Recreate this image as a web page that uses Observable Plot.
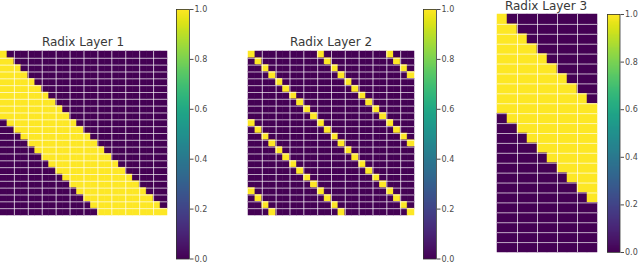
<!DOCTYPE html>
<html><head><meta charset="utf-8">
<script src="https://cdn.jsdelivr.net/npm/d3@7"></script>
<script src="https://cdn.jsdelivr.net/npm/@observablehq/plot@0.6"></script>
<style>
html,body{margin:0;padding:0;background:#fff;}
#root{position:relative;width:640px;height:265px;overflow:hidden;font-family:"DejaVu Sans",sans-serif;}
.abs{position:absolute;}
.abs svg{max-width:none !important;display:block;}
.title{position:absolute;font-size:12px;line-height:12px;color:#383838;white-space:nowrap;transform:translateX(-50%);}
</style></head><body><div id="root"></div>
<script>
const titles = ["Radix Layer 1", "Radix Layer 2", "Radix Layer 3"];
const colorbarTicks = [0, 0.2, 0.4, 0.6, 0.8, 1.0];

// 1 = yellow (1.0), 0 = purple (0.0); spaces only group columns for readability
const layer1Rows = [
  "100000 000000 000000 000000",
  "110000 000000 000000 000000",
  "111000 000000 000000 000000",
  "111100 000000 000000 000000",
  "111110 000000 000000 000000",
  "111111 000000 000000 000000",
  "111111 100000 000000 000000",
  "111111 110000 000000 000000",
  "111111 111000 000000 000000",
  "111111 111100 000000 000000",
  "011111 111110 000000 000000",
  "001111 111111 000000 000000",
  "000111 111111 100000 000000",
  "000011 111111 110000 000000",
  "000001 111111 111000 000000",
  "000000 111111 111100 000000",
  "000000 011111 111110 000000",
  "000000 001111 111111 000000",
  "000000 000111 111111 100000",
  "000000 000011 111111 110000",
  "000000 000001 111111 111000",
  "000000 000000 111111 111100",
  "000000 000000 011111 111110",
  "000000 000000 001111 111111"
];
const layer2Rows = [
  "100000 000010 000000 001000",
  "010000 000001 000000 000100",
  "001000 000000 100000 000010",
  "000100 000000 010000 000001",
  "000010 000000 001000 000000",
  "000001 000000 000100 000000",
  "000000 100000 000010 000000",
  "000000 010000 000001 000000",
  "000000 001000 000000 100000",
  "000000 000100 000000 010000",
  "100000 000010 000000 001000",
  "010000 000001 000000 000100",
  "001000 000000 100000 000010",
  "000100 000000 010000 000001",
  "000010 000000 001000 000000",
  "000001 000000 000100 000000",
  "000000 100000 000010 000000",
  "000000 010000 000001 000000",
  "000000 001000 000000 100000",
  "000000 000100 000000 010000",
  "100000 000010 000000 001000",
  "010000 000001 000000 000100",
  "001000 000000 100000 000010",
  "000100 000000 010000 000001"
];
const layer3Rows = [
  "10000 00000",
  "11000 00000",
  "11100 00000",
  "11110 00000",
  "11111 00000",
  "11111 10000",
  "11111 11000",
  "11111 11100",
  "11111 11110",
  "11111 11111",
  "01111 11111",
  "00111 11111",
  "00011 11111",
  "00001 11111",
  "00000 11111",
  "00000 01111",
  "00000 00111",
  "00000 00011",
  "00000 00001",
  "00000 00000",
  "00000 00000",
  "00000 00000",
  "00000 00000",
  "00000 00000"
];
// white grid lines (column lines every two columns, row lines every row)
const colGrid24 = [2, 4, 6, 8, 10, 12, 14, 16, 18, 20, 22];
const colGrid10 = [2, 4, 6, 8];
const rowGrid24 = [1, 2, 3, 4, 5, 6, 7, 8, 9, 10, 11, 12, 13, 14, 15, 16, 17, 18, 19, 20, 21, 22, 23];

const root = document.getElementById("root");
const colorOpts = {type: "linear", scheme: "viridis", domain: [0, 1]};

function place(node, left, top, w, h) {
  const d = document.createElement("div");
  d.className = "abs";
  d.style.left = left + "px";
  d.style.top = top + "px";
  d.style.width = w + "px";
  d.style.height = h + "px";
  d.appendChild(node);
  root.appendChild(d);
}

function heatmap(rows, colGrid, w, h) {
  const grid = rows.map(r => r.replace(/ /g, ""));
  const nR = grid.length, nC = grid[0].length;
  const cells = [];
  grid.forEach((row, r) => row.split("").forEach((ch, c) => cells.push({r, c, v: +ch})));
  return Plot.plot({
    width: w, height: h,
    marginTop: 0, marginRight: 0, marginBottom: 0, marginLeft: 0,
    x: {domain: [0, nC], axis: null},
    y: {domain: [0, nR], axis: null, reverse: true},
    color: colorOpts,
    style: {background: "transparent", overflow: "visible", maxWidth: "none"},
    marks: [
      Plot.rect(cells, {x1: "c", x2: d => d.c + 1, y1: "r", y2: d => d.r + 1, fill: "v", stroke: "v", strokeWidth: 0.5}),
      Plot.ruleX(colGrid, {stroke: "white", strokeOpacity: 0.7, strokeWidth: 1}),
      Plot.ruleY(rowGrid24.filter(k => k < nR), {stroke: "white", strokeOpacity: 0.65, strokeWidth: 1})
    ]
  });
}

function colorbar(barW, barH) {
  const n = 256;
  const stops = d3.range(0, n).map(k => k / n);
  return Plot.plot({
    width: barW + 26, height: barH + 10,
    marginTop: 5, marginBottom: 5, marginLeft: 0, marginRight: 26,
    x: {domain: [0, 1], axis: null},
    y: {domain: [0, 1], axis: "right", ticks: colorbarTicks, tickFormat: d3.format(".1f"), tickSize: 3.5, tickPadding: 1.5, label: null},
    color: colorOpts,
    style: {background: "transparent", overflow: "visible", maxWidth: "none", fontFamily: "DejaVu Sans", fontSize: "8px", color: "#4a4a4a"},
    marks: [
      Plot.rect(stops, {x1: 0, x2: 1, y1: d => d, y2: d => Math.min(1, d + 1.5 / n), fill: d => d + 0.5 / n, shapeRendering: "crispEdges"}),
      Plot.frame({stroke: "#333", strokeWidth: 0.8})
    ]
  });
}

function title(text, cx, top) {
  const d = document.createElement("div");
  d.className = "title";
  d.style.left = cx + "px";
  d.style.top = top + "px";
  d.textContent = text;
  root.appendChild(d);
}

place(heatmap(layer1Rows, colGrid24, 167, 164), 0, 51, 167, 164);
place(heatmap(layer2Rows, colGrid24, 166, 164), 248, 51, 166, 164);
place(heatmap(layer3Rows, colGrid10, 100, 238), 497, 14, 100, 238);

place(colorbar(13, 249.5), 176, 3.5, 39, 259.5);
place(colorbar(13, 249.5), 423, 3.5, 39, 259.5);
place(colorbar(12.5, 238), 607, 8.5, 38.5, 248);

title(titles[0], 83, 35.5);
title(titles[1], 331, 35.5);
title(titles[2], 546, 0);
</script></body></html>
